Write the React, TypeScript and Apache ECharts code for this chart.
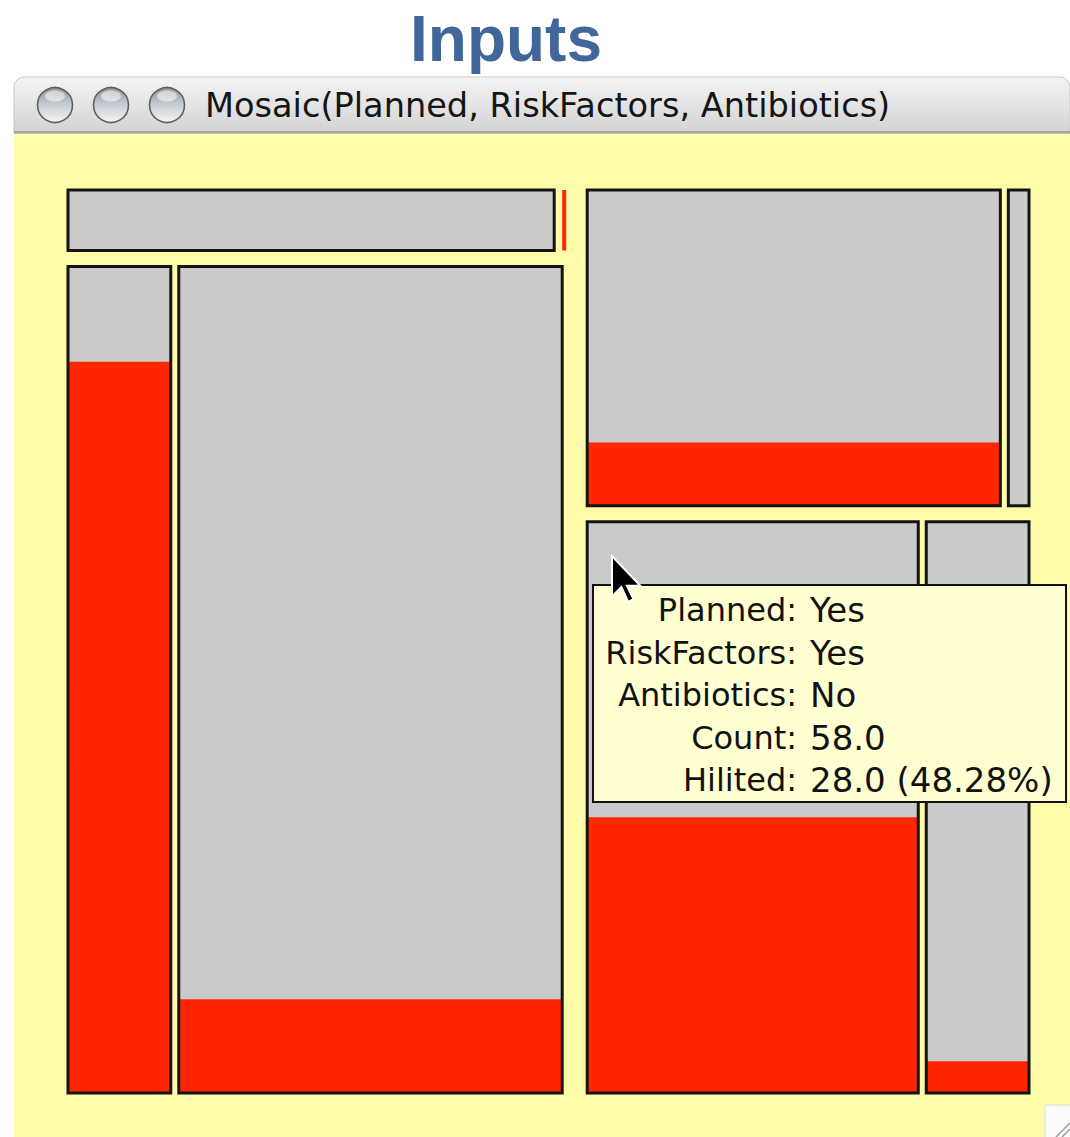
import React, { useEffect, useRef } from "react";
import * as echarts from "echarts";

// ---- data ----
const plannedLevels = ["No", "Yes"];
const riskFactorLevels = ["No", "Yes"];
const antibioticLevels = ["No", "Yes"];
// counts[risk][antibiotics]
const countsPlannedNo = [[9, 0], [26, 97]];
const countsPlannedYes = [[40, 2], [58, 18]];
const hilitedPlannedNo = [[0, 0], [23, 11]];
const hilitedPlannedYes = [[8, 0], [28, 1]];
const windowTitle = "Mosaic(Planned, RiskFactors, Antibiotics)";
const chartTitle = "Inputs";
// tooltip shows cell: Planned=Yes, RiskFactors=Yes, Antibiotics=No
const tipCell = { p: 1, r: 1, a: 0 };

// ---- layout constants ----
const PLOT_W = 961;
const PLOT_H = 903;
const GAP_P = 25;
const GAP_R = 16;
const GAP_A = 8;

const COL_GREY = "#cacaca";
const COL_RED = "#ff2600";
const COL_BG = "#fffba8";

type Cell = { p: number; r: number; a: number; count: number; hil: number; x0: number; x1: number; y0: number; y1: number };

function buildCells(): Cell[] {
  const counts = [countsPlannedNo, countsPlannedYes];
  const hils = [hilitedPlannedNo, hilitedPlannedYes];
  const pTot = counts.map((m) => m.flat().reduce((s, v) => s + v, 0));
  const N = pTot.reduce((s, v) => s + v, 0);
  const cells: Cell[] = [];
  let xp = 0;
  counts.forEach((m, p) => {
    const wp = ((PLOT_W - GAP_P * (counts.length - 1)) * pTot[p]) / N;
    let yr = 0;
    const rTot = m.map((row) => row.reduce((s, v) => s + v, 0));
    m.forEach((row, r) => {
      const hr = ((PLOT_H - GAP_R * (m.length - 1)) * rTot[r]) / pTot[p];
      let xa = xp;
      row.forEach((c, a) => {
        const wa = ((wp - GAP_A * (row.length - 1)) * c) / rTot[r];
        cells.push({ p, r, a, count: c, hil: hils[p][r][a], x0: xa, x1: xa + wa, y0: yr, y1: yr + hr });
        xa += wa + GAP_A;
      });
      yr += hr + GAP_R;
    });
    xp += wp + GAP_P;
  });
  return cells;
}

export default function App() {
  const ref = useRef<HTMLDivElement>(null);
  useEffect(() => {
    document.body.style.margin = "0";
    if (!ref.current) return;
    const chart = echarts.init(ref.current, null, { renderer: "svg" });
    const cells = buildCells();

    const tc = cells.find((c) => c.p === tipCell.p && c.r === tipCell.r && c.a === tipCell.a)!;
    const pct = ((tc.hil / tc.count) * 100).toFixed(2);
    const tipLabels = ["Planned:", "RiskFactors:", "Antibiotics:", "Count:", "Hilited:"];
    const tipValues = [
      plannedLevels[tc.p],
      riskFactorLevels[tc.r],
      antibioticLevels[tc.a],
      tc.count.toFixed(1),
      `${tc.hil.toFixed(1)} (${pct}%)`,
    ];

    const tipTexts: any[] = [];
    tipLabels.forEach((l, i) => {
      const y = 610 + i * 42.6;
      tipTexts.push({
        type: "text", z: 60, x: 797, y,
        style: { text: l, font: '32px "DejaVu Sans"', fill: "#111", textAlign: "right", textVerticalAlign: "middle", verticalAlign: "middle" },
      });
      tipTexts.push({
        type: "text", z: 60, x: 810, y,
        style: { text: tipValues[i], font: '34px "DejaVu Sans"', fill: "#111", textAlign: "left", textVerticalAlign: "middle", verticalAlign: "middle" },
      });
    });

    const btnFill = {
      type: "linear", x: 0, y: 0, x2: 0, y2: 1,
      colorStops: [
        { offset: 0, color: "#8e949b" },
        { offset: 0.45, color: "#c3c8ce" },
        { offset: 1, color: "#f4f6f8" },
      ],
    };
    const buttons: any[] = [55, 111, 167].flatMap((cx) => [
      { type: "circle", z: 5, shape: { cx, cy: 105, r: 17.5 }, style: { fill: btnFill, stroke: "#5e5e5e", lineWidth: 1.6 } },
      { type: "ellipse", z: 6, shape: { cx, cy: 96, rx: 10, ry: 5.5 }, style: { fill: "rgba(255,255,255,0.55)" } },
    ]);

    const s = 1.35;
    const arrowPts = [[0, 0], [0, 30], [7, 23], [12, 34], [16, 32], [11, 22], [21, 22]].map(([x, y]) => [612 + x * s, 556 + y * s]);

    chart.setOption({
      animation: false,
      backgroundColor: "#ffffff",
      grid: { left: 68, top: 190, width: PLOT_W, height: PLOT_H, containLabel: false },
      xAxis: { type: "value", min: 0, max: PLOT_W, show: false },
      yAxis: { type: "value", min: 0, max: PLOT_H, inverse: true, show: false },
      tooltip: { show: false },
      graphic: [
        // window body
        { type: "rect", z: 0, shape: { x: 14, y: 130, width: 1056, height: 1007 }, style: { fill: COL_BG } },
        // title bar
        {
          type: "rect", z: 1, shape: { x: 14, y: 77, width: 1056, height: 56, r: [10, 10, 0, 0] },
          style: {
            fill: { type: "linear", x: 0, y: 0, x2: 0, y2: 1, colorStops: [{ offset: 0, color: "#f4f4f4" }, { offset: 1, color: "#d3d3d3" }] },
            stroke: "#c8c8c8", lineWidth: 1,
          },
        },
        { type: "rect", z: 2, shape: { x: 14, y: 131, width: 1056, height: 2.5 }, style: { fill: "#a3a3a3" } },
        ...buttons,
        {
          type: "text", z: 5, x: 205, y: 105,
          style: { text: windowTitle, font: '33.6px "DejaVu Sans"', fill: "#151515", textAlign: "left", textVerticalAlign: "middle", verticalAlign: "middle" },
        },
        // page title
        {
          type: "text", z: 5, x: 506, y: 39,
          style: { text: chartTitle, font: 'bold 64px "Liberation Sans"', fill: "#41679a", textAlign: "center", textVerticalAlign: "middle", verticalAlign: "middle" },
        },
        // tooltip box
        { type: "rect", z: 50, shape: { x: 593, y: 585, width: 473, height: 217 }, style: { fill: "#ffffd2", stroke: "#111", lineWidth: 2 } },
        ...tipTexts,
        // cursor
        { type: "polygon", z: 70, shape: { points: arrowPts }, style: { fill: "#000", stroke: "#fff", lineWidth: 2 } },
        // resize grip
        { type: "rect", z: 5, shape: { x: 1045, y: 1105, width: 30, height: 35 }, style: { fill: "#fbfbfb", stroke: "#dcdcdc", lineWidth: 1 } },
        { type: "line", z: 6, shape: { x1: 1056, y1: 1137, x2: 1070, y2: 1123 }, style: { stroke: "#9a9a9a", lineWidth: 1.5 } },
        { type: "line", z: 6, shape: { x1: 1062, y1: 1137, x2: 1070, y2: 1129 }, style: { stroke: "#9a9a9a", lineWidth: 1.5 } },
      ],
      series: [
        {
          type: "custom",
          z: 10,
          clip: false,
          data: cells.map((_, i) => [i]),
          renderItem: (params: any, api: any) => {
            const c = cells[params.dataIndex];
            const tl = api.coord([c.x0, c.y0]);
            const br = api.coord([c.x1, c.y1]);
            const h = br[1] - tl[1];
            if (c.count === 0) {
              return { type: "rect", shape: { x: tl[0], y: tl[1], width: 4, height: h }, style: { fill: COL_RED } };
            }
            const w = br[0] - tl[0];
            const hh = (h * c.hil) / c.count;
            return {
              type: "group",
              children: [
                { type: "rect", shape: { x: tl[0], y: tl[1], width: w, height: h }, style: { fill: COL_GREY } },
                { type: "rect", shape: { x: tl[0], y: br[1] - hh, width: w, height: hh }, style: { fill: COL_RED } },
                { type: "rect", shape: { x: tl[0], y: tl[1], width: w, height: h }, style: { fill: "none", stroke: "#141414", lineWidth: 3 } },
              ],
            };
          },
        },
      ],
    });
    return () => chart.dispose();
  }, []);
  return <div ref={ref} style={{ width: 1070, height: 1137 }} />;
}
